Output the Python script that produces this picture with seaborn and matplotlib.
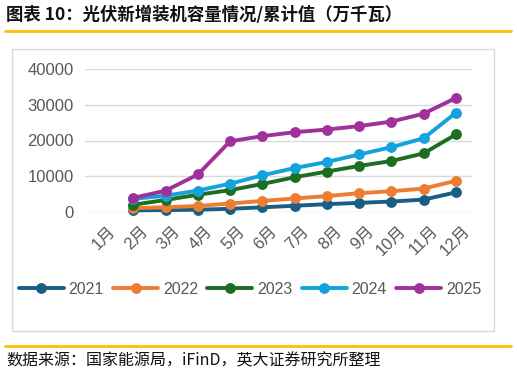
import matplotlib
matplotlib.use('Agg')
import matplotlib.pyplot as plt
import matplotlib.transforms as mtransforms
import pandas as pd
import seaborn as sns
from matplotlib.patches import Rectangle
from matplotlib.lines import Line2D

months = ['1月', '2月', '3月', '4月', '5月', '6月', '7月', '8月', '9月', '10月', '11月', '12月']
years = ['2021', '2022', '2023', '2024', '2025']

# cumulative values from Feb to Dec (万千瓦), Jan has no data
y2021 = [450, 530, 640, 900, 1300, 1750, 2190, 2560, 2930, 3470, 5490]
y2022 = [1080, 1320, 1690, 2370, 3090, 3780, 4450, 5260, 5820, 6540, 8740]
y2023 = [2040, 3370, 4830, 6120, 7840, 9720, 11320, 12890, 14260, 16390, 21690]
y2024 = [3670, 4570, 6000, 7920, 10250, 12300, 14000, 16090, 18130, 20630, 27760]
y2025 = [3950, 5970, 10490, 19790, 21220, 22330, 23060, 24030, 25290, 27490, 31900]

colors = ['#1b5e85', '#ed7d31', '#1e6e22', '#13a3dc', '#a0309a']

rows = []
for yr, vals in zip(years, [y2021, y2022, y2023, y2024, y2025]):
    for i, v in enumerate(vals):
        rows.append({'month': i + 1, 'value': v, 'year': yr})
df = pd.DataFrame(rows)

sns.set_style('white')
plt.rcParams['font.family'] = ['Liberation Sans', 'Noto Sans CJK SC']

fig = plt.figure(figsize=(5.17, 3.78), dpi=100)
ax = fig.add_axes([85 / 517, 1 - 212 / 378, 387 / 517, 143 / 378])

sns.lineplot(data=df, x='month', y='value', hue='year', palette=colors,
             marker='o', markersize=7.8, markeredgewidth=0, linewidth=2.8,
             ax=ax, legend=False, clip_on=False)

ax.set_xlim(-0.5, 11.5)
ax.set_ylim(0, 40000)
ax.set_yticks([0, 10000, 20000, 30000, 40000])
ax.set_yticklabels(['0', '10000', '20000', '30000', '40000'])
ax.set_xticks(range(12))
ax.set_xticklabels(months, rotation=45, ha='right', rotation_mode='anchor')
ax.tick_params(axis='y', length=0, labelsize=12, labelcolor='#595959', pad=8)
ax.tick_params(axis='x', length=0, labelsize=12, labelcolor='#595959', pad=8)
shift = mtransforms.ScaledTranslation(7 / 100, 0, fig.dpi_scale_trans)
for lbl in ax.get_xticklabels():
    lbl.set_transform(lbl.get_transform() + shift)
ax.set_xlabel('')
ax.set_ylabel('')
ax.grid(axis='y', color='#d9d9d9', linewidth=1)
ax.set_axisbelow(True)
for s in ax.spines.values():
    s.set_visible(False)

handles = [Line2D([0], [0], color=c, linewidth=2.8, marker='o', markersize=7.8,
                  markeredgewidth=0) for c in colors]
fig.legend(handles, years, loc='center', bbox_to_anchor=(250 / 517, 1 - 289 / 378),
           ncol=5, frameon=False, fontsize=11.5, handlelength=2.8,
           columnspacing=0.6, handletextpad=0.3, labelcolor='#595959')

# chart frame and decorations
fig.patches.append(Rectangle((12 / 517, 1 - 331 / 378), 482 / 517, 282 / 378,
                             transform=fig.transFigure, fill=False,
                             edgecolor='#d9d9d9', linewidth=1))
fig.add_artist(Line2D([5 / 517, 511 / 517], [1 - 31 / 378, 1 - 31 / 378],
                      color='#ffc000', linewidth=2, transform=fig.transFigure))
fig.add_artist(Line2D([5 / 517, 511 / 517], [1 - 346 / 378, 1 - 346 / 378],
                      color='#ffc000', linewidth=2, transform=fig.transFigure))

fig.text(6 / 517, 1 - 15 / 378, '图表 10：光伏新增装机容量情况/累计值（万千瓦）',
         fontsize=12.5, fontweight='bold', va='center', ha='left',
         family=['Noto Sans CJK SC', 'DejaVu Sans'], color='#111111')
fig.text(6 / 517, 1 - 361 / 378, '数据来源：国家能源局，iFinD，英大证券研究所整理',
         fontsize=11.5, va='center', ha='left',
         family=['Noto Sans CJK SC', 'DejaVu Sans'], color='#111111')

fig.savefig('out.png', dpi=100)
